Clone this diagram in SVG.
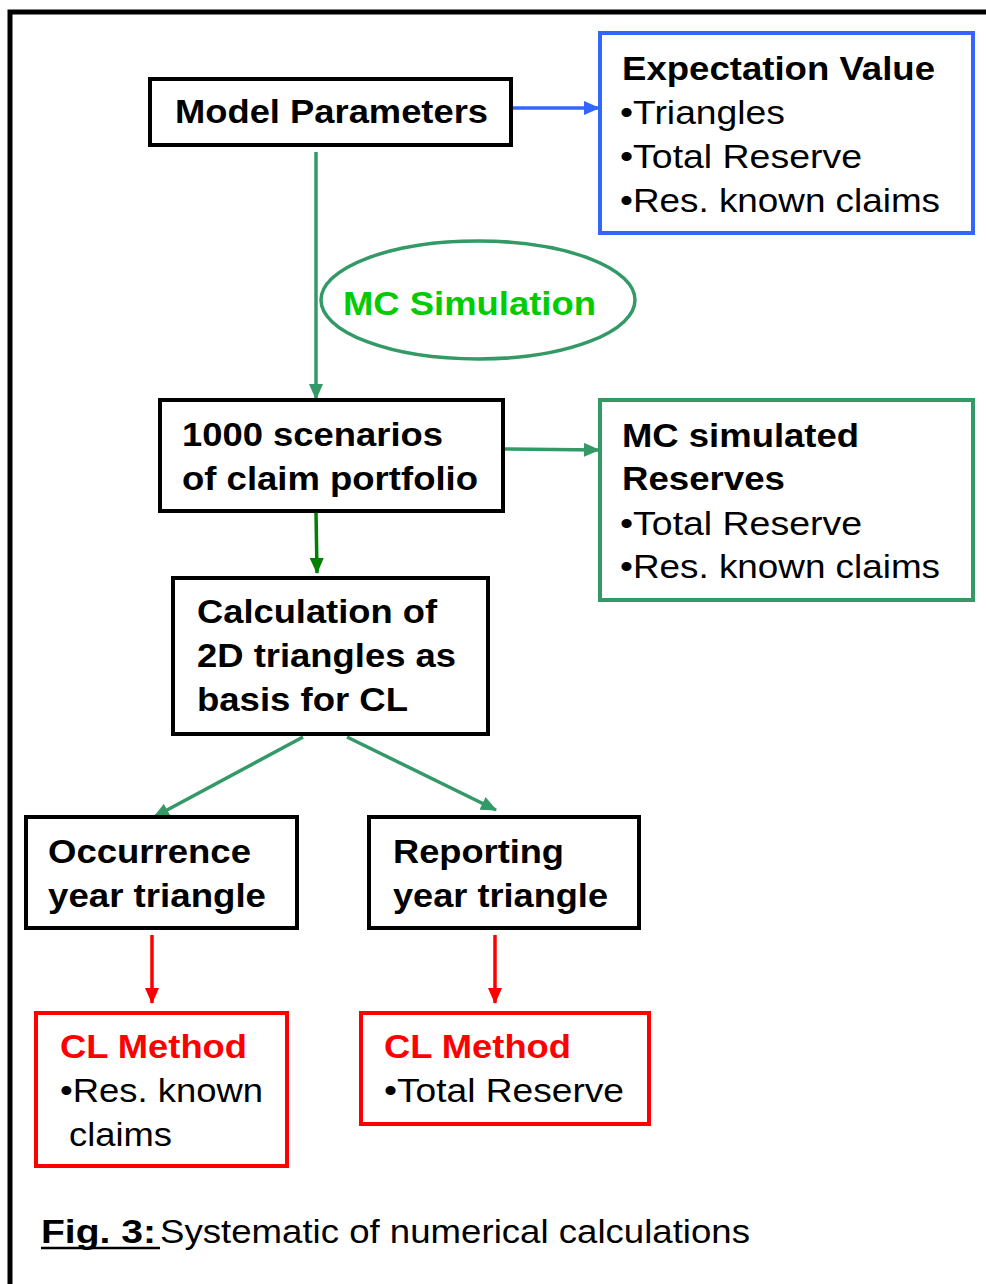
<svg xmlns="http://www.w3.org/2000/svg" width="986" height="1284" viewBox="0 0 986 1284">
<style>
.t{font-family:"Liberation Sans",Arial,sans-serif;font-size:34px;fill:#000}
.b{font-weight:bold}
.box{fill:#fff;stroke-width:4}
.k{stroke:#000}
.bl{stroke:#3366ff}
.gr{stroke:#339966}
.rd{stroke:#ff0000}
.red{fill:#ff0000}
</style>
<defs>
<marker id="ag" markerUnits="userSpaceOnUse" markerWidth="16" markerHeight="14" refX="15" refY="7" orient="auto"><path d="M0,0 L16,7 L0,14 Z" fill="#339966"/></marker>
<marker id="adg" markerUnits="userSpaceOnUse" markerWidth="16" markerHeight="14" refX="15" refY="7" orient="auto"><path d="M0,0 L16,7 L0,14 Z" fill="#008000"/></marker>
<marker id="ab" markerUnits="userSpaceOnUse" markerWidth="16" markerHeight="14" refX="15" refY="7" orient="auto"><path d="M0,0 L16,7 L0,14 Z" fill="#3366ff"/></marker>
<marker id="ar" markerUnits="userSpaceOnUse" markerWidth="16" markerHeight="14" refX="15" refY="7" orient="auto"><path d="M0,0 L16,7 L0,14 Z" fill="#ff0000"/></marker>
</defs>
<rect width="986" height="1284" fill="#fff"/>
<path d="M10,1284 L10,12 L986,12" fill="none" stroke="#000" stroke-width="5"/>

<g id="connectors" fill="none" stroke-width="3.5">
<line x1="511" y1="108" x2="599" y2="108" stroke="#3366ff" marker-end="url(#ab)"/>
<line x1="316" y1="152" x2="316" y2="399" stroke="#339966" marker-end="url(#ag)"/>
<line x1="503" y1="449" x2="599" y2="450" stroke="#339966" marker-end="url(#ag)"/>
<line x1="316" y1="511" x2="317" y2="573" stroke="#008000" marker-end="url(#adg)"/>
<line x1="303" y1="737" x2="154" y2="817" stroke="#339966" marker-end="url(#ag)"/>
<line x1="347" y1="737" x2="496" y2="810" stroke="#339966" marker-end="url(#ag)"/>
<line x1="152" y1="935" x2="152" y2="1003" stroke="#ff0000" marker-end="url(#ar)"/>
<line x1="495" y1="935" x2="495" y2="1003" stroke="#ff0000" marker-end="url(#ar)"/>
</g>

<g id="model-parameters">
<rect class="box k" x="150" y="79" width="361" height="66"/>
<text class="t b" x="175" y="123" textLength="313" lengthAdjust="spacingAndGlyphs">Model Parameters</text>
</g>

<g id="expectation-value">
<rect class="box bl" x="600" y="33" width="373" height="200"/>
<text class="t b" x="622" y="80" textLength="313" lengthAdjust="spacingAndGlyphs">Expectation Value</text>
<text class="t" x="620" y="124" textLength="165" lengthAdjust="spacingAndGlyphs">•Triangles</text>
<text class="t" x="620" y="168" textLength="242" lengthAdjust="spacingAndGlyphs">•Total Reserve</text>
<text class="t" x="620" y="212" textLength="320" lengthAdjust="spacingAndGlyphs">•Res. known claims</text>
</g>

<g id="mc-simulation">
<ellipse cx="478" cy="300" rx="157" ry="59" fill="#fff" stroke="#339966" stroke-width="3.5"/>
<text class="t b" x="343" y="315" style="fill:#00cc00" textLength="253" lengthAdjust="spacingAndGlyphs">MC Simulation</text>
</g>

<g id="scenarios">
<rect class="box k" x="160" y="400" width="343" height="111"/>
<text class="t b" x="182" y="446" textLength="261" lengthAdjust="spacingAndGlyphs">1000 scenarios</text>
<text class="t b" x="182" y="490" textLength="296" lengthAdjust="spacingAndGlyphs">of claim portfolio</text>
</g>

<g id="mc-simulated-reserves">
<rect class="box gr" x="600" y="400" width="373" height="200"/>
<text class="t b" x="622" y="447" textLength="237" lengthAdjust="spacingAndGlyphs">MC simulated</text>
<text class="t b" x="622" y="490" textLength="163" lengthAdjust="spacingAndGlyphs">Reserves</text>
<text class="t" x="620" y="535" textLength="242" lengthAdjust="spacingAndGlyphs">•Total Reserve</text>
<text class="t" x="620" y="578" textLength="320" lengthAdjust="spacingAndGlyphs">•Res. known claims</text>
</g>

<g id="calculation">
<rect class="box k" x="173" y="578" width="315" height="156"/>
<text class="t b" x="197" y="623" textLength="240" lengthAdjust="spacingAndGlyphs">Calculation of</text>
<text class="t b" x="197" y="667" textLength="259" lengthAdjust="spacingAndGlyphs">2D triangles as</text>
<text class="t b" x="197" y="711" textLength="211" lengthAdjust="spacingAndGlyphs">basis for CL</text>
</g>

<g id="occurrence">
<rect class="box k" x="26" y="817" width="271" height="111"/>
<text class="t b" x="48" y="863" textLength="203" lengthAdjust="spacingAndGlyphs">Occurrence</text>
<text class="t b" x="48" y="907" textLength="218" lengthAdjust="spacingAndGlyphs">year triangle</text>
</g>

<g id="reporting">
<rect class="box k" x="369" y="817" width="270" height="111"/>
<text class="t b" x="393" y="863" textLength="171" lengthAdjust="spacingAndGlyphs">Reporting</text>
<text class="t b" x="393" y="907" textLength="215" lengthAdjust="spacingAndGlyphs">year triangle</text>
</g>

<g id="cl-left">
<rect class="box rd" x="36" y="1013" width="251" height="153"/>
<text class="t b red" x="60" y="1058" textLength="187" lengthAdjust="spacingAndGlyphs">CL Method</text>
<text class="t" x="60" y="1102" textLength="203" lengthAdjust="spacingAndGlyphs">•Res. known</text>
<text class="t" x="69" y="1146" textLength="103" lengthAdjust="spacingAndGlyphs">claims</text>
</g>

<g id="cl-right">
<rect class="box rd" x="361" y="1013" width="288" height="111"/>
<text class="t b red" x="384" y="1058" textLength="187" lengthAdjust="spacingAndGlyphs">CL Method</text>
<text class="t" x="384" y="1102" textLength="240" lengthAdjust="spacingAndGlyphs">•Total Reserve</text>
</g>

<g id="caption">
<text class="t b" x="41" y="1243" textLength="115" lengthAdjust="spacingAndGlyphs">Fig. 3:</text>
<line x1="41" y1="1248" x2="160" y2="1248" stroke="#000" stroke-width="2.5"/>
<text class="t" x="160" y="1243" textLength="590" lengthAdjust="spacingAndGlyphs">Systematic of numerical calculations</text>
</g>
</svg>
